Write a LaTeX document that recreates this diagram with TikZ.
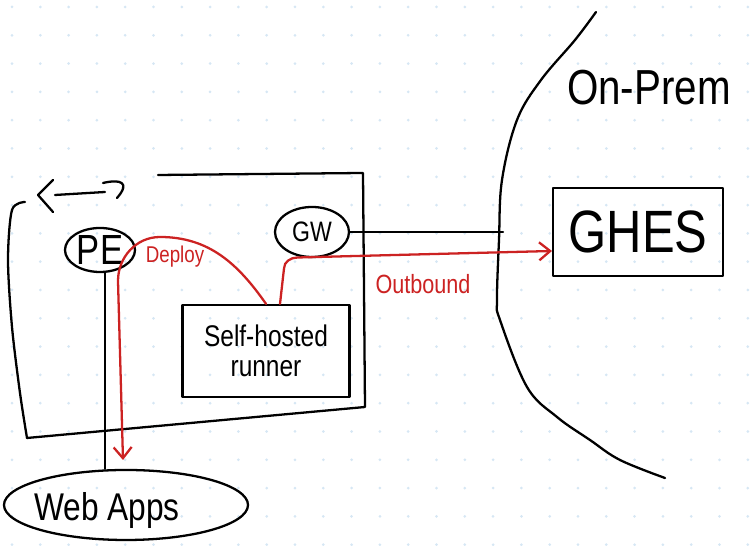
\documentclass[tikz,border=0pt]{standalone}
\usepackage{fontspec}
\setmainfont[FakeStretch=0.82]{Liberation Sans}
\usetikzlibrary{arrows.meta,shapes.geometric}
\definecolor{inkred}{RGB}{204,34,34}
\definecolor{griddot}{RGB}{214,231,244}
\begin{document}
\begin{tikzpicture}[line width=1.3pt, line cap=round, line join=round,
    hand/.style={font=\fontsize{#1}{#1}\selectfont},
    bubble/.style={draw, ellipse, inner sep=0pt},
    boxed/.style={draw, rectangle, inner sep=0pt, align=center},
    redink/.style={draw=inkred, -{Straight Barb[length=2.2mm,width=3.6mm]}}]
    \useasboundingbox (0,0) rectangle (15,10.92);
    % dotted paper
    \foreach \i in {0,...,26}
        \foreach \j in {0,...,19}
            \fill[griddot] ({0.24+0.566*\i},{10.78-0.566*\j}) circle (0.03);
    % cloud side box
    \draw (3.16,7.42) -- (7.26,7.46) -- (7.30,2.78) -- (0.54,2.16);
    \draw plot[smooth] coordinates {(0.54,2.16) (0.40,3.06) (0.24,4.38) (0.16,5.72) (0.24,6.72) (0.50,6.88)};
    \draw (1.06,7.32) -- (0.76,7.02) -- (1.06,6.68);
    \draw (1.10,7.02) -- (2.10,7.08);
    \draw (2.06,7.26) .. controls (2.40,7.34) and (2.62,7.28) .. (2.34,6.96);
    % nodes
    \node[bubble, minimum width=1.40cm, minimum height=0.88cm, label={[hand=24]center:PE}] (PE) at (2.00,5.92) {};
    \node[bubble, minimum width=1.48cm, minimum height=1.00cm, label={[hand=16]center:GW}] (GW) at (6.24,6.28) {};
    \node[boxed, minimum width=3.34cm, minimum height=1.84cm, hand=17] (runner) at (5.32,3.90) {Self-hosted\\runner};
    \node[bubble, minimum width=4.88cm, minimum height=1.40cm, label={[hand=22, xshift=-0.38cm, yshift=-0.12cm]center:Web Apps}] (webapps) at (2.52,0.82) {};
    \node[boxed, minimum width=3.40cm, minimum height=1.76cm, hand=34] (ghes) at (12.76,6.28) {GHES};
    \node[hand=28] (onprem) at (12.98,9.16) {On-Prem};
    % on-prem boundary
    \draw plot[smooth, tension=0.6] coordinates {(11.92,10.68) (11.50,10.12) (10.82,9.32) (10.34,8.52) (10.04,7.32) (9.98,6.12) (9.94,4.92) (10.00,4.52) (10.54,3.18) (11.14,2.58) (11.80,2.12) (12.40,1.72) (13.30,1.36)};
    \coordinate (edge) at (10.06,6.28);
    \coordinate (deploytip) at (2.46,1.72);
    \coordinate (outtip) at (11.04,5.90);
    % links
    \draw ([xshift=0.1cm]PE.south) -- ([xshift=0.1cm]PE.south |- webapps.north);
    \draw (GW) -- (edge);
    \draw[redink] (runner.north) to[out=125,in=0] (3.20,6.18) to[out=180,in=90] (2.36,5.30) -- (deploytip);
    \node[hand=13, text=inkred] (deploy) at (3.50,5.78) {Deploy};
    \draw[redink] ([xshift=0.28cm]runner.north) -- (5.68,5.55) to[out=90,in=180] (5.95,5.77) -- (outtip);
    \node[hand=15, text=inkred] (outbound) at (8.46,5.24) {Outbound};
\end{tikzpicture}
\end{document}
